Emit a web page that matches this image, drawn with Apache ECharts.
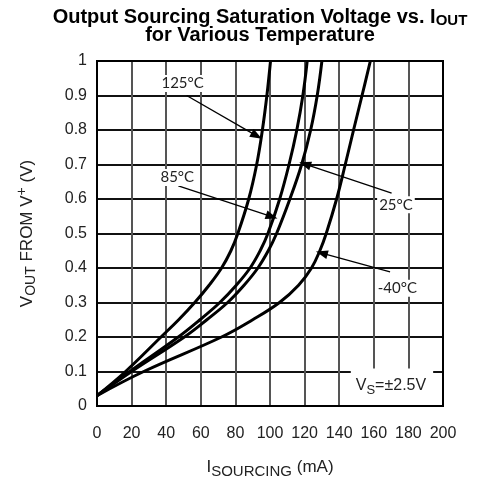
<!DOCTYPE html>
<html>
<head>
<meta charset="utf-8">
<script src="https://cdn.jsdelivr.net/npm/echarts@6/dist/echarts.min.js"></script>
<style>
  html, body { margin: 0; padding: 0; background: #fff; }
  #chart { width: 497px; height: 478px; }
</style>
</head>
<body>
<div id="chart"></div>
<script>
// each curve read as the sourcing current (mA) where it crosses these output levels (V)
var temps = ['125°C', '85°C', '25°C', '-40°C'];
var vLevels = [0.03, 0.1, 0.2, 0.25, 0.3, 0.35, 0.4, 0.45, 0.5, 0.6, 0.7, 0.8, 0.9, 1.0];
var mA125 = [0, 16.5, 37, 47.2, 56.5, 64.8, 72, 77.4, 81.4, 87.7, 92.3, 95.6, 98.2, 100.3];
var mA85 = [0, 19, 47, 59.5, 71, 80.5, 88.5, 94.3, 98.8, 105.6, 111, 115.5, 119, 121.5];
var mA25 = [0, 20, 50.5, 63.5, 75.5, 85, 93, 99, 103.8, 111.5, 118.3, 123.5, 127.3, 130];
var mAM40 = [0, 27, 72, 90, 105.5, 116.5, 124, 128.8, 132.5, 138.5, 143.5, 148.3, 153.2, 158];
var currents = [mA125, mA85, mA25, mAM40];

// annotation positions in data units
var labelAt = [[49.5, 0.935], [46.4, 0.662], [172.8, 0.583], [173.6, 0.341]];
var arrowFrom = [[51.8, 0.9], [47, 0.638], [170.3, 0.617], [169.4, 0.389]];
var arrowTo = [[92.3, 0.783], [101, 0.549], [120.2, 0.701], [129.9, 0.443]];
var supplyNote = 'V{s|S}=±2.5V';
var supplyAt = [170.5, 0.055];

var xTicks = [0, 200, 20];
var yTicks = [0, 1, 0.1];

var chart = echarts.init(document.getElementById('chart'));

var series = currents.map(function (arr, i) {
  return {
    name: temps[i],
    type: 'line',
    data: arr.map(function (x, j) { return [x, vLevels[j]]; }),
    smooth: 0.4,
    showSymbol: false,
    lineStyle: { color: '#000', width: 3 },
    z: 3
  };
});

series.push({
  type: 'line',
  data: [],
  z: 5,
  markLine: {
    silent: true,
    symbol: ['none', 'triangle'],
    symbolSize: [9, 12],
    label: { show: false },
    lineStyle: { color: '#000', width: 1.3, type: 'solid' },
    data: arrowFrom.map(function (p, i) {
      return [{ coord: p }, { coord: arrowTo[i] }];
    })
  },
  markPoint: {
    silent: true,
    symbolSize: 0,
    data: labelAt.map(function (p, i) {
      return {
        coord: p,
        label: {
          show: true,
          formatter: temps[i],
          fontFamily: 'Lato',
          fontSize: 15,
          color: '#222',
          backgroundColor: '#fff',
          padding: [1, 2, 1, 2]
        }
      };
    }).concat([{
      coord: supplyAt,
      label: {
        show: true,
        formatter: supplyNote,
        fontFamily: 'Liberation Sans',
        fontSize: 16,
        color: '#222',
        backgroundColor: '#fff',
        padding: [7, 7, 9, 5],
        rich: { s: { fontFamily: 'Liberation Sans', fontSize: 13, color: '#222', padding: [8, 0, 0, 0] } }
      }
    }])
  }
});

chart.setOption({
  animation: false,
  title: {
    text: '{b|Output Sourcing Saturation Voltage vs. I}{s|OUT}\n{b|for Various Temperature}',
    left: 255,
    top: 3,
    textAlign: 'center',
    textStyle: {
      rich: {
        b: { fontFamily: 'Liberation Sans', fontWeight: 'bold', fontSize: 20, color: '#000', lineHeight: 18, align: 'center' },
        s: { fontFamily: 'Liberation Sans', fontWeight: 'bold', fontSize: 15, color: '#000', lineHeight: 18, padding: [8, 0, 0, 0] }
      }
    }
  },
  grid: { left: 97, right: 54, top: 61, bottom: 72, show: true, borderColor: '#000', borderWidth: 2, z: 6, outerBoundsMode: 'none' },
  xAxis: {
    type: 'value',
    min: xTicks[0], max: xTicks[1], interval: xTicks[2],
    axisLine: { show: false },
    axisTick: { show: false },
    axisLabel: { fontFamily: 'Liberation Sans', fontSize: 16, color: '#222', margin: 20 },
    splitLine: { show: true, lineStyle: { color: '#555', width: 2 } },
    name: '{b|I}{s|SOURCING}{b| (mA)}',
    nameLocation: 'middle',
    nameGap: 50,
    nameTextStyle: {
      rich: {
        b: { fontFamily: 'Liberation Sans', fontSize: 17, color: '#222' },
        s: { fontFamily: 'Liberation Sans', fontSize: 15, color: '#222', padding: [8, 0, 0, 0] }
      }
    }
  },
  yAxis: {
    type: 'value',
    min: yTicks[0], max: yTicks[1], interval: yTicks[2],
    axisLine: { show: false },
    axisTick: { show: false },
    axisLabel: { fontFamily: 'Liberation Sans', fontSize: 16, color: '#222', margin: 10 },
    splitLine: { show: true, lineStyle: { color: '#111', width: 2 } },
    name: '{b|V}{s|OUT}{b| FROM V}{p|+}{b| (V)}',
    nameLocation: 'middle',
    nameRotate: 90,
    nameGap: 58,
    nameTextStyle: {
      rich: {
        b: { fontFamily: 'Liberation Sans', fontSize: 17, color: '#222' },
        s: { fontFamily: 'Liberation Sans', fontSize: 14, color: '#222', padding: [8, 0, 0, 0] },
        p: { fontFamily: 'Liberation Sans', fontSize: 14, color: '#222', padding: [0, 0, 10, 0] }
      }
    }
  },
  series: series
});
</script>
</body>
</html>
